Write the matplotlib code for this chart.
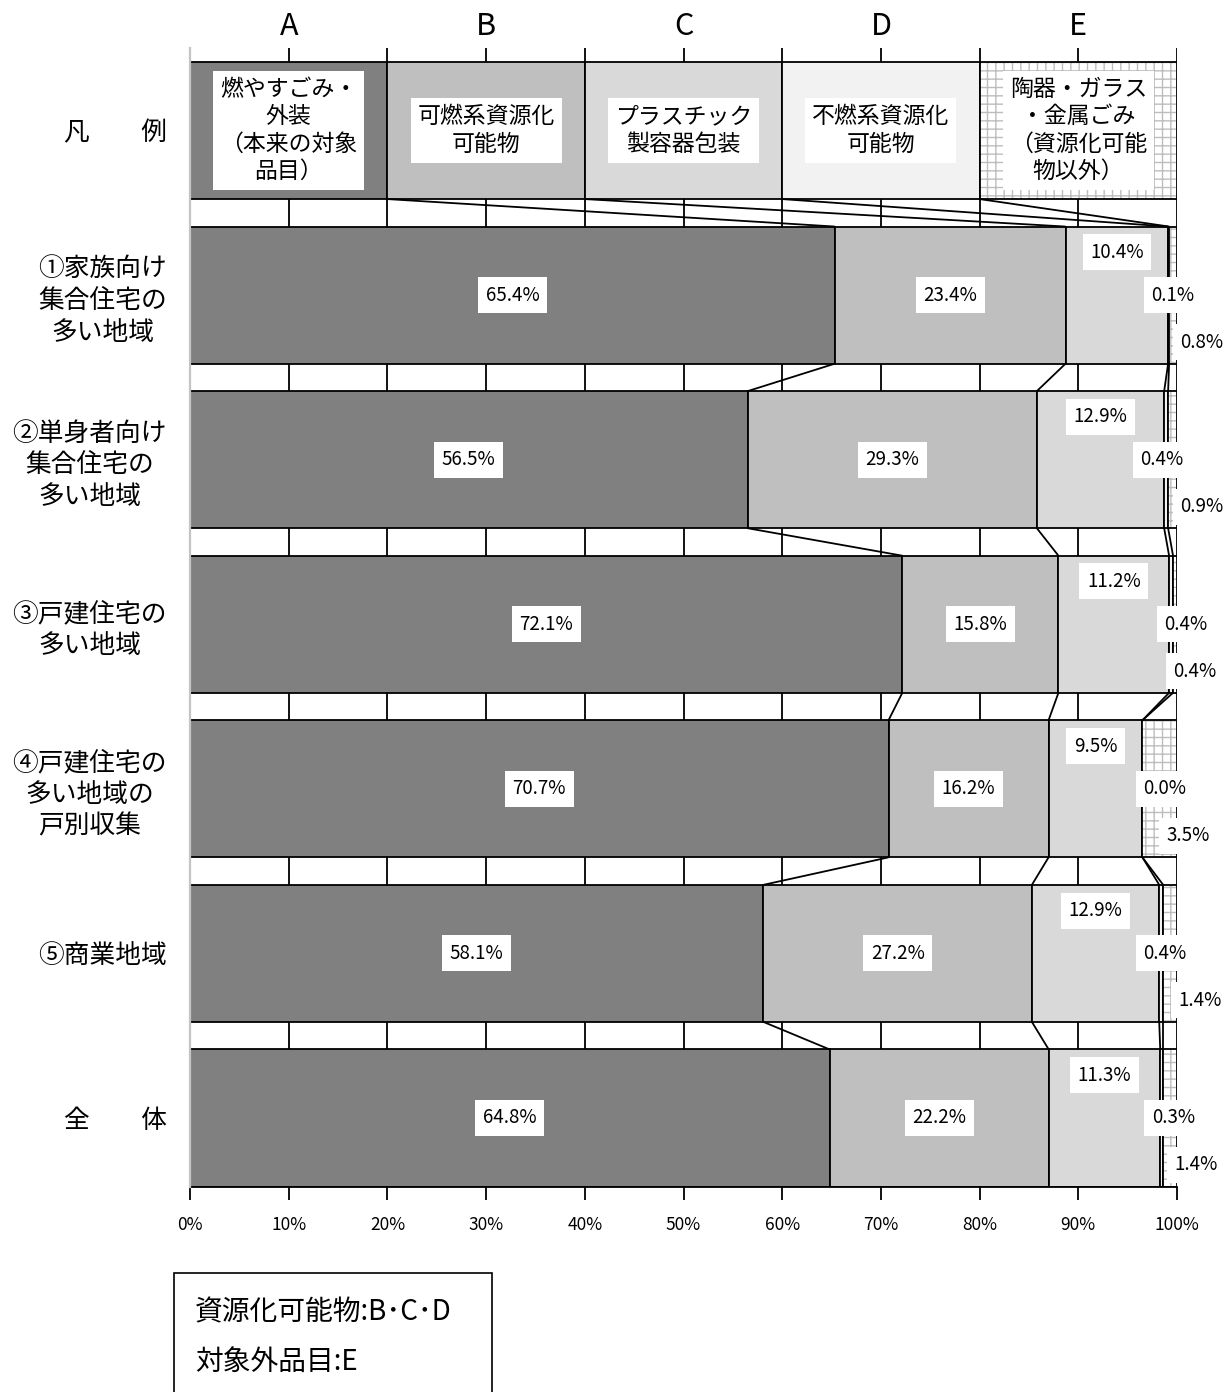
import matplotlib
matplotlib.use('Agg')
import matplotlib.pyplot as plt
from matplotlib.patches import Rectangle
import numpy as np

plt.rcParams['font.family'] = ['Noto Sans CJK JP', 'DejaVu Sans']
plt.rcParams['hatch.linewidth'] = 1.0

# ---------------- data ----------------
legend_label = '凡\u3000\u3000例'
categories = ['①家族向け\n集合住宅の\n多い地域',
              '②単身者向け\n集合住宅の\n多い地域',
              '③戸建住宅の\n多い地域',
              '④戸建住宅の\n多い地域の\n戸別収集',
              '⑤商業地域',
              '全\u3000\u3000体']
series_letters = ['A', 'B', 'C', 'D', 'E']
series_names = ['燃やすごみ・\n外装\n（本来の対象\n品目）',
                '可燃系資源化\n可能物',
                'プラスチック\n製容器包装',
                '不燃系資源化\n可能物',
                '陶器・ガラス\n・金属ごみ\n（資源化可能\n物以外）']
legend_widths = [20, 20, 20, 20, 20]
val_A = [65.4, 56.5, 72.1, 70.7, 58.1, 64.8]
val_B = [23.4, 29.3, 15.8, 16.2, 27.2, 22.2]
val_C = [10.4, 12.9, 11.2, 9.5, 12.9, 11.3]
val_D = [0.1, 0.4, 0.4, 0.0, 0.4, 0.3]
val_E = [0.8, 0.9, 0.4, 3.5, 1.4, 1.4]
x_ticks = [0, 10, 20, 30, 40, 50, 60, 70, 80, 90, 100]
x_ticklabels = [f'{t}%' for t in x_ticks]
note_lines = ['資源化可能物:B･C･D', '対象外品目:E']

# ---------------- style / layout ----------------
colors = ['#808080', '#bfbfbf', '#d9d9d9', '#f2f2f2', '#ffffff']
hatch_color = '#bdbdbd'
edge_lw = 1.3
bar_h = 0.833
d_label_dx = [0.4, -0.4, 1.5, 2.3, 0.4, 1.2]
e_label_dx = [2.9, 2.95, 2.0, 2.85, 3.0, 2.6]

W, H = 1232, 1392
fig = plt.figure(figsize=(W / 100, H / 100), dpi=100)
ax = fig.add_axes([190 / W, (H - 1186.5) / H, 987 / W, (1186.5 - 48) / H])

n_rows = len(categories) + 1
ax.set_xlim(0, 100)
ax.set_ylim(6 + bar_h / 2, -0.5015)

# gridlines
for t in x_ticks[1:]:
    ax.axvline(t, color='black', lw=edge_lw, zorder=0.5)

series = [val_A, val_B, val_C, val_D, val_E]
vals = np.array(series, dtype=float).T  # rows x series
norm = vals / vals.sum(axis=1, keepdims=True) * 100

rows_widths = [np.array(legend_widths, dtype=float)] + [norm[i] for i in range(len(norm))]

def draw_row(y, widths):
    left = 0.0
    for k, w in enumerate(widths):
        if k == 4:
            ax.barh(y, w, left=left, height=bar_h, color='white', edgecolor=hatch_color,
                    hatch='++', linewidth=0, zorder=2)
            ax.barh(y, w, left=left, height=bar_h, color='none', edgecolor='black',
                    linewidth=edge_lw, zorder=2.1)
        else:
            ax.barh(y, w, left=left, height=bar_h, color=colors[k], edgecolor='black',
                    linewidth=edge_lw, zorder=2)
        left += w

for r, widths in enumerate(rows_widths):
    draw_row(r, widths)

# connector lines
cums = [np.cumsum(w) for w in rows_widths]
for r in range(len(cums) - 1):
    for k in range(4):
        ax.plot([cums[r][k], cums[r + 1][k]], [r + bar_h / 2, r + 1 - bar_h / 2],
                color='black', lw=edge_lw, zorder=3, solid_capstyle='butt')

# legend texts
lcum = np.concatenate([[0], cums[0]])
for k, name in enumerate(series_names):
    xc = (lcum[k] + lcum[k + 1]) / 2
    ax.text(xc, 0, name, ha='center', va='center', multialignment='center',
            fontsize=16.5, linespacing=1.25, zorder=5,
            bbox=dict(boxstyle='square,pad=0.3', facecolor='white', edgecolor='none'))
    ax.text(xc, -0.632, series_letters[k], ha='center', va='center', fontsize=22,
            clip_on=False, zorder=5)

# value labels
box = dict(boxstyle='square,pad=0.4', facecolor='white', edgecolor='none')
for i in range(len(categories)):
    y = i + 1
    c = np.concatenate([[0], np.cumsum(norm[i])])
    raw = vals[i]
    pos = [((c[0] + c[1]) / 2, y),
           ((c[1] + c[2]) / 2, y),
           ((c[2] + c[3]) / 2, y - 0.26),
           ((c[3] + c[4]) / 2 + d_label_dx[i], y),
           ((c[4] + c[5]) / 2 + e_label_dx[i], y + 0.285)]
    for k in range(5):
        ax.text(pos[k][0], pos[k][1], f'{raw[k]:.1f}%', ha='center', va='center',
                fontsize=13.5, zorder=6, clip_on=False, bbox=box)

# axes styling
for s in ['top', 'right']:
    ax.spines[s].set_visible(False)
ax.spines['left'].set_color('#c4c4c4')
ax.spines['left'].set_linewidth(1.6)
ax.spines['left'].set_zorder(4)
ax.spines['bottom'].set_color('black')
ax.spines['bottom'].set_linewidth(edge_lw)

ax.set_xticks(x_ticks)
ax.set_xticklabels(x_ticklabels, fontsize=12.5)
ax.tick_params(axis='x', direction='out', length=9, width=edge_lw, color='black', pad=12)
ax.xaxis.get_major_ticks()[0].tick1line.set_color('#c4c4c4')

ax.set_yticks(range(n_rows))
ax.set_yticklabels([legend_label] + categories, fontsize=18.5)
ax.tick_params(axis='y', length=0, pad=16.5)
for lab in ax.get_yticklabels():
    lab.set_multialignment('center')
    lab.set_linespacing(1.28)

# note box
fig.add_artist(Rectangle((174 / W, -0.02), (492 - 174) / W, 0.02 + (H - 1273) / H,
                         transform=fig.transFigure, facecolor='none', edgecolor='black',
                         linewidth=1.2))
fig.text(195 / W, 1 - 1312 / H, note_lines[0], ha='left', va='center', fontsize=20)
fig.text(195 / W, 1 - 1362 / H, note_lines[1], ha='left', va='center', fontsize=20)

fig.savefig('out.png', dpi=100)
